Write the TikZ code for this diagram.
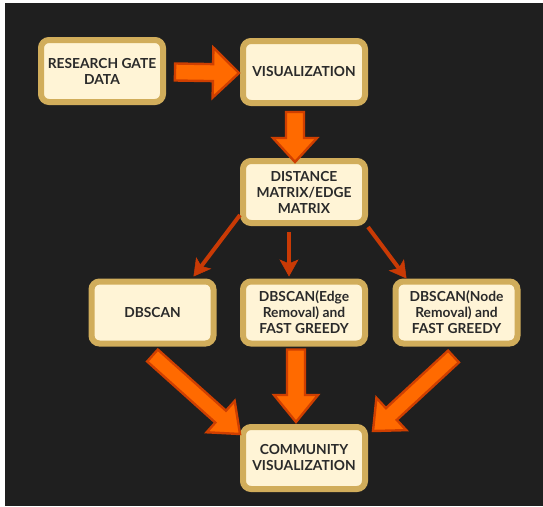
\documentclass[tikz,border=0pt]{standalone}
\usepackage{fontspec}
\setmainfont{Lato}
\usetikzlibrary{calc,arrows.meta}
\definecolor{bgdark}{HTML}{1F1F1F}
\definecolor{boxgold}{HTML}{D1AD5B}
\definecolor{boxcream}{HTML}{FFF4D6}
\definecolor{txtdark}{HTML}{2A2A2A}
\definecolor{arrfill}{HTML}{FF6A00}
\definecolor{arredge}{HTML}{CF3F00}
\definecolor{thinarr}{HTML}{C93A05}
\newcommand{\blockarr}[5]{%
  \coordinate (hb) at ($(#2)!#5!(#1)$);
  \draw[bigarrow] ($(#1)!#3!90:(#2)$) -- ($(hb)!#3!90:(#2)$) -- ($(hb)!#4!90:(#2)$)
    -- (#2) -- ($(hb)!#4!-90:(#2)$) -- ($(hb)!#3!-90:(#2)$) -- ($(#1)!#3!-90:(#2)$) -- cycle;}
\tikzset{
  flowbox/.style={draw=boxgold, line width=6pt, fill=boxcream, rounded corners=8pt,
    minimum width=122pt, minimum height=62pt, inner sep=1pt, align=center,
    text=txtdark, font=\bfseries\fontsize{13.8}{16}\selectfont},
  bigarrow/.style={fill=arrfill, draw=arredge, line width=2.4pt, line join=miter},
  thinarrow/.style={draw=thinarr, line width=4pt, -{Stealth[length=17pt,width=19pt,inset=4pt,line width=0.5pt]}}
}
\begin{document}
\begin{tikzpicture}[x=1pt,y=-1pt]
\useasboundingbox (0,0) rectangle (543,506);
\fill[white] (0,0) rectangle (543,506);
\fill[bgdark] (5,3) rectangle (543,506);

\node[flowbox] (rg) at (102,71) {RESEARCH GATE\\DATA};
\node[flowbox] (viz) at (304,72) {VISUALIZATION};
\node[flowbox] (dist) at (304,192) {DISTANCE\\MATRIX/EDGE\\MATRIX};
\node[flowbox] (db) at (152.5,312.5) {DBSCAN};
\node[flowbox] (dbe) at (304,312.5) {DBSCAN(Edge\\Removal) and\\FAST GREEDY};
\node[flowbox] (dbn) at (456.5,312.5) {DBSCAN(Node\\Removal) and\\FAST GREEDY};
\node[flowbox] (com) at (304,458) {COMMUNITY\\VISUALIZATION};

% big arrows
\coordinate (a1s) at ($(rg.east)+(9,1)$);
\coordinate (a1e) at ($(viz.west)+(-1,1)$);
\blockarr{a1s}{a1e}{8.5pt}{25pt}{26pt}
\coordinate (a2s) at ($(viz.south)+(-9,6)$);
\coordinate (a2e) at ($(dist.north)+(-9,4)$);
\blockarr{a2s}{a2e}{9pt}{22pt}{24pt}

% thin arrows
\coordinate (t1s) at ($(dist.south west)+(0,-11)$);
\coordinate (t1e) at ($(db.north east)+(-23,-2)$);
\coordinate (t2s) at ($(dist.south)+(-15,6)$);
\coordinate (t2e) at ($(dbe.north)+(-15,-2)$);
\coordinate (t3s) at ($(dist.south east)+(0,1)$);
\coordinate (t3e) at ($(dbn.north west)+(14,0)$);
\draw[thinarrow] (t1s) -- (t1e);
\draw[thinarrow] (t2s) -- (t2e);
\draw[thinarrow] (t3s) -- (t3e);

% bottom big arrows
\coordinate (b1s) at ($(db.south)+(0,9)$);
\coordinate (b1e) at ($(com.north west)+(0,10)$);
\blockarr{b1s}{b1e}{8pt}{21pt}{26pt}
\coordinate (b2s) at ($(dbe.south)+(-8,3)$);
\coordinate (b2e) at ($(com.north)+(-8,-2)$);
\blockarr{b2s}{b2e}{9pt}{22pt}{27pt}
\coordinate (b3s) at ($(dbn.south)+(-3,10)$);
\coordinate (b3e) at ($(com.north east)+(5,7)$);
\blockarr{b3s}{b3e}{8pt}{22pt}{25pt}
\end{tikzpicture}
\end{document}
